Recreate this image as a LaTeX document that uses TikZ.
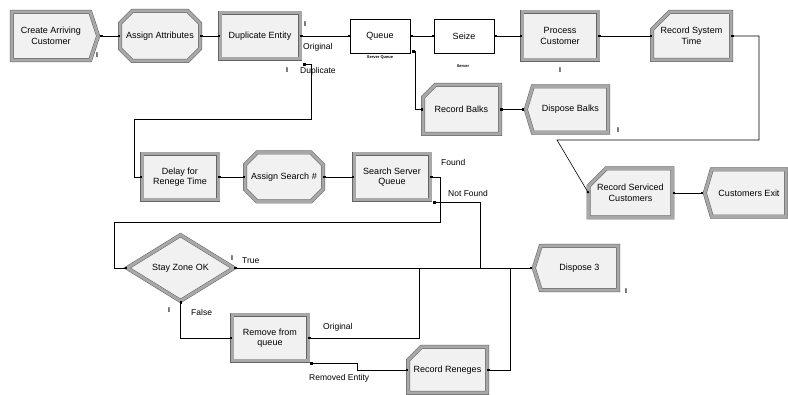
\documentclass[tikz,border=0pt]{standalone}
\usepackage{fontspec}
\setmainfont{Liberation Sans}
\usetikzlibrary{shapes.geometric,shapes.misc,arrows.meta,calc,backgrounds}
\definecolor{bevel}{RGB}{168,168,168}
\definecolor{modfill}{RGB}{241,241,241}
\definecolor{edgec}{RGB}{100,100,100}
\tikzset{
  txt/.style={font=\fontsize{9}{10.5}\selectfont, align=center, inner sep=0pt},
  bev/.style={draw=edgec, line width=0.5pt, double=bevel, double distance=3pt, fill=modfill},
  modbox/.style={txt, bev, rectangle},
  octbox/.style={txt, bev, chamfered rectangle, chamfered rectangle xsep=8pt, chamfered rectangle ysep=8pt},
  recbox/.style={txt, bev, chamfered rectangle, chamfered rectangle corners=north west, chamfered rectangle xsep=9pt, chamfered rectangle ysep=9pt},
  plainbox/.style={txt, draw=black, line width=0.6pt, fill=white, rectangle},
  decbox/.style={txt, bev, diamond},
  lbl/.style={font=\fontsize{8.5}{10}\selectfont, inner sep=0pt, anchor=west},
  bar/.style={font=\fontsize{7}{7}\selectfont\bfseries, inner sep=0pt},
  tinylbl/.style={font=\fontsize{4}{4}\selectfont\bfseries, inner sep=0pt},
  conn/.style={draw=black, line width=0.6pt, arrows={Square[length=2pt,width=2pt]-Square[length=2pt,width=2pt]}},
}
\begin{document}
\begin{tikzpicture}[x=1pt,y=-1pt]
\useasboundingbox (0,0) rectangle (788,395);

% ---- modules ----
\node[txt, minimum width=78pt, minimum height=48pt] (create) at (51,36) {Create Arriving\\Customer};
\node[octbox, minimum width=80pt, minimum height=50pt] (assign) at (160,36) {Assign Attributes};
\node[modbox, minimum width=80pt, minimum height=46pt] (dup) at (260,36) {Duplicate Entity};
\node[plainbox, minimum width=60pt, minimum height=34pt] (queue) at (380,36) {Queue};
\node[plainbox, minimum width=60pt, minimum height=34pt] (seize) at (464,36) {Seize};
\node[modbox, minimum width=76pt, minimum height=48pt] (process) at (560,36) {Process\\Customer};
\node[recbox, minimum width=79pt, minimum height=48pt] (rst) at (691.5,36) {Record System\\Time};
\node[recbox, minimum width=77pt, minimum height=49pt] (rbalks) at (461.5,109.5) {Record Balks};
\node[txt, minimum width=75pt, minimum height=46pt] (dbalks) at (570.5,109.5) {Dispose Balks};
\node[modbox, minimum width=76pt, minimum height=46pt] (delay) at (180,177) {Delay for\\Renege Time};
\node[octbox, minimum width=78pt, minimum height=49pt] (asearch) at (284,177) {Assign Search \#};
\node[modbox, minimum width=76pt, minimum height=46pt] (search) at (392,177) {Search Server\\Queue};
\node[recbox, minimum width=79pt, minimum height=49pt] (rserv) at (630.5,193) {Record Serviced\\Customers};
\node[txt, minimum width=74pt, minimum height=47pt] (cexit) at (749,193) {Customers Exit};
\node[decbox, minimum width=107pt, minimum height=66pt] (stay) at (180.5,268) {Stay Zone OK};
\node[txt, minimum width=77pt, minimum height=44pt] (disp3) at (579.5,268) {Dispose 3};
\node[modbox, minimum width=76pt, minimum height=46pt] (remove) at (270,338) {Remove from\\queue};
\node[recbox, minimum width=79pt, minimum height=46pt] (rreneges) at (447.5,370) {Record Reneges};

% ---- arrow-shaped module outlines (behind their texts) ----
\begin{pgfonlayer}{background}
\fill[white] (0,0) rectangle (788,395);
\path[bev] (create.north west) -- (create.north east) -- ($(create.east)+(8,0)$) -- (create.south east) -- (create.south west) -- cycle;
\path[bev] (dbalks.north west) -- (dbalks.north east) -- (dbalks.south east) -- (dbalks.south west) -- ($(dbalks.west)+(-7,0)$) -- cycle;
\path[bev] (cexit.north west) -- (cexit.north east) -- (cexit.south east) -- (cexit.south west) -- ($(cexit.west)+(-7,0)$) -- cycle;
\path[bev] (disp3.north west) -- (disp3.north east) -- (disp3.south east) -- (disp3.south west) -- ($(disp3.west)+(-7,0)$) -- cycle;
\end{pgfonlayer}

\coordinate (createtip) at ($(create.east)+(10,0)$);
\coordinate (dbtip) at ($(dbalks.west)+(-9,0)$);
\coordinate (cetip) at ($(cexit.west)+(-9,0)$);
\coordinate (d3tip) at ($(disp3.west)+(-9,0)$);
\coordinate (dupd) at ($(dup.south east)+(3,5)$);
\coordinate (qbalk) at ($(queue.south east)+(2,-2)$);
\coordinate (notfound) at ($(search.south east)+(3,2)$);
\coordinate (remd) at ($(remove.south east)+(2,2)$);

% ---- connectors ----
\draw[conn] (createtip) -- (assign.west);
\draw[conn] (assign.east) -- (dup.west);
\draw[conn] (dup.east) -- (queue.west);
\draw[conn] (dupd) -| (311,119) -| ($(delay.west)+(-7,0)$) -- (delay.west);
\draw[conn] (queue.east) -- (seize.west);
\draw[conn] (qbalk) -- ++(3,0) |- (rbalks.west);
\draw[conn] (seize.east) -- (process.west);
\draw[conn] (process.east) -- (rst.west);
\draw[conn] (rst.east) -| (759,140) -- (557,140) -- (rserv.west);
\draw[conn] (rbalks.east) -- (dbtip);
\draw[conn] (rserv.east) -- (cetip);
\draw[conn] (delay.east) -- (asearch.west);
\draw[conn] (asearch.east) -- (search.west);
\draw[conn] (search.east) -| (440,222) -| (114,268) -- (stay.west);
\draw[conn] (notfound) -| (480,268) -- (d3tip);
\draw[conn] (stay.east) -- (d3tip);
\draw[conn] (stay.south) |- (remove.west);
\draw[conn] (remove.east) -| (419,268) -- (d3tip);
\draw[conn] (remd) -| ($(rreneges.west)+(-50,0)$) -- (rreneges.west);
\draw[conn] (rreneges.east) -| (510,268) -- (d3tip);

% ---- labels ----
\node[lbl] (lorig) at (303,47) {Original};
\node[lbl] (ldup) at (300,71) {Duplicate};
\node[lbl] (lfound) at (441,162) {Found};
\node[lbl] (lnotfound) at (448,193) {Not Found};
\node[lbl] (ltrue) at (242,261) {True};
\node[lbl] (lfalse) at (191,312) {False};
\node[lbl] (lorig2) at (323,327) {Original};
\node[lbl] (lremoved) at (309,378) {Removed Entity};
\node[tinylbl] (lsq) at (380,58) {Server Queue};
\node[tinylbl] (lsrv) at (463,66) {Server};

\node[bar] (b1) at (97,55) {I};
\node[bar] (b2) at (305,24) {I};
\node[bar] (b3) at (287,70) {I};
\node[bar] (b4) at (560,70) {I};
\node[bar] (b5) at (618,130) {I};
\node[bar] (b6) at (232,258) {I};
\node[bar] (b7) at (169,310) {I};
\node[bar] (b8) at (626,291) {I};
\end{tikzpicture}
\end{document}
